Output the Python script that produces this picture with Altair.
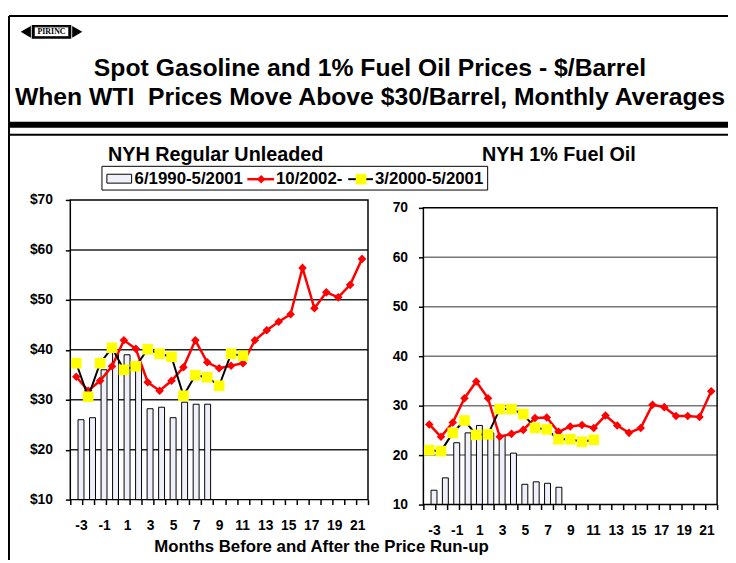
import altair as alt
import pandas as pd

# ---------------- data ----------------
months = list(range(-3, 22))
bar_months = list(range(-3, 9))
yel_months = list(range(-3, 12))

gas_bars = [26.0, 26.4, 36.0, 40.0, 39.0, 36.5, 28.2, 28.5, 26.4, 29.5, 29.1, 29.1]
gas_red = [34.6, 31.8, 33.8, 36.7, 41.9, 40.2, 33.5, 31.8, 33.8, 36.5, 41.9, 37.5,
           36.3, 36.8, 37.3, 41.9, 43.9, 45.6, 47.1, 56.4, 48.3, 51.5, 50.5, 53.0, 58.2]
gas_yel = [37.3, 30.6, 37.3, 40.4, 36.0, 36.7, 40.1, 39.2, 38.6, 30.8, 34.9, 34.5,
           32.8, 39.2, 38.8]

fo_bars = [12.9, 15.4, 22.5, 24.5, 26.0, 24.5, 24.0, 20.4, 14.1, 14.6, 14.3, 13.5]
fo_red = [26.2, 23.7, 26.6, 31.5, 34.9, 31.5, 23.7, 24.3, 25.1, 27.5, 27.6, 24.7,
          25.8, 26.1, 25.5, 28.0, 26.0, 24.5, 25.5, 30.2, 29.7, 27.9, 27.9, 27.7, 32.9]
fo_yel = [21.0, 20.8, 24.5, 27.0, 24.1, 24.2, 29.3, 29.3, 28.3, 25.5, 25.2, 23.2,
          23.2, 22.7, 23.1]

legend_labels = ["6/1990-5/2001", "10/2002-", "3/2000-5/2001"]
panel_titles = ["NYH Regular Unleaded", "NYH 1% Fuel Oil"]
title_lines = ["Spot Gasoline and 1% Fuel Oil Prices - $/Barrel",
               "When WTI \u00a0Prices Move Above $30/Barrel, Monthly Averages"]
x_title = "Months Before and After the Price Run-up"
y_ticks = [10, 20, 30, 40, 50, 60, 70]
grid_values = [20, 30, 40, 50, 60]
x_label_ticks = list(range(-3, 22, 2))
x_tick_marks = [m - 0.5 for m in range(-3, 23)]

# ---------------- styling ----------------
FONT = "Arial"
W, H = 728, 555
RED = "#FF0000"
YEL = "#FFFF00"
BARFILL = "#F0F0FB"
one = pd.DataFrame({"k": [0]})


def panel(bars, red, yel, xr, yr, dollar, gridcol, lpad):
    xs = alt.Scale(domain=[-3.5, 21.5], range=xr, nice=False, zero=False)
    ys = alt.Scale(domain=[10, 70], range=yr, nice=False, zero=False)
    dfb = pd.DataFrame({"m": bar_months, "v": bars, "base": [10] * len(bars)})
    dfr = pd.DataFrame({"m": months, "v": red})
    dfy = pd.DataFrame({"m": yel_months, "v": yel})
    dfg = pd.DataFrame({"g": grid_values, "x0": [-3.5] * len(grid_values),
                        "x1": [21.5] * len(grid_values)})
    dff = pd.DataFrame({"x0": [-3.5], "x1": [21.5], "y0": [10], "y1": [70]})

    xoff = yr[0] - H
    lab = "'$' + datum.value" if dollar else "'' + datum.value"
    yaxis = alt.Axis(orient="left", offset=-xr[0], values=y_ticks, labelExpr=lab,
                     tickSize=5, tickColor="black", tickWidth=1.5, domain=False,
                     grid=False, title=None, labelFont=FONT, labelFontSize=14,
                     labelFontWeight="bold", labelColor="black", labelPadding=lpad,
                     labelFlush=False, labelOverlap=False)
    tickaxis = alt.Axis(orient="bottom", offset=xoff, values=x_tick_marks, labels=False,
                        tickSize=5, tickColor="black", tickWidth=1.5, domain=False,
                        grid=False, title=None)
    labaxis = alt.Axis(orient="bottom", offset=xoff, values=x_label_ticks,
                       labelExpr="'' + datum.value", ticks=False, tickSize=0,
                       labelPadding=19, domain=False, grid=False, title=None,
                       labelFont=FONT, labelFontSize=14, labelFontWeight="bold",
                       labelColor="black", labelFlush=False, labelOverlap=False)

    grid = alt.Chart(dfg).mark_rule(color=gridcol, strokeWidth=1.5).encode(
        y=alt.Y("g:Q", scale=ys, axis=yaxis),
        x=alt.X("x0:Q", scale=xs, axis=None), x2="x1:Q")
    barl = alt.Chart(dfb).mark_bar(size=6, fill=BARFILL, stroke="black",
                                   strokeWidth=1).encode(
        x=alt.X("m:Q", scale=xs, axis=labaxis),
        y=alt.Y("v:Q", scale=ys, axis=None), y2="base:Q")
    frame = alt.Chart(dff).mark_rect(fill=None, stroke="black", strokeWidth=1.5).encode(
        x=alt.X("x0:Q", scale=xs, axis=tickaxis), x2="x1:Q",
        y=alt.Y("y0:Q", scale=ys, axis=None), y2="y1:Q")
    redline = alt.Chart(dfr).mark_line(color=RED, strokeWidth=2.5).encode(
        x=alt.X("m:Q", scale=xs, axis=None), y=alt.Y("v:Q", scale=ys, axis=None))
    redpts = alt.Chart(dfr).mark_point(shape="diamond", filled=True, color=RED,
                                       size=75, opacity=1).encode(
        x=alt.X("m:Q", scale=xs, axis=None), y=alt.Y("v:Q", scale=ys, axis=None))
    yline = alt.Chart(dfy).mark_line(color="black", strokeWidth=2).encode(
        x=alt.X("m:Q", scale=xs, axis=None), y=alt.Y("v:Q", scale=ys, axis=None))
    ypts = alt.Chart(dfy).mark_square(color=YEL, size=115, opacity=1).encode(
        x=alt.X("m:Q", scale=xs, axis=None), y=alt.Y("v:Q", scale=ys, axis=None))
    return [grid, barl, frame, redline, redpts, yline, ypts]


def txt(s, x, y, size, align="center", font=FONT, weight="bold", baseline="middle"):
    return alt.Chart(one).mark_text(text=s, fontSize=size, fontWeight=weight, font=font,
                                    align=align, baseline=baseline, color="black").encode(
        x=alt.value(x), y=alt.value(y))


def hrule(x, x2, y, w=1, color="black"):
    return alt.Chart(one).mark_rule(strokeWidth=w, color=color).encode(
        x=alt.value(x), x2=alt.value(x2), y=alt.value(y))


def vrule(x, y, y2, w=1, color="black"):
    return alt.Chart(one).mark_rule(strokeWidth=w, color=color).encode(
        x=alt.value(x), y=alt.value(y), y2=alt.value(y2))


def box(x, x2, y, y2, fill="white", stroke="black", w=1):
    return alt.Chart(one).mark_rect(fill=fill, stroke=stroke, strokeWidth=w).encode(
        x=alt.value(x), x2=alt.value(x2), y=alt.value(y), y2=alt.value(y2))


def pt(shape, x, y, size, color):
    return alt.Chart(one).mark_point(shape=shape, filled=True, size=size, color=color,
                                     opacity=1).encode(x=alt.value(x), y=alt.value(y))


layers = []
# page frame and header
layers += [
    vrule(1, 5, H, w=2),
    hrule(1, W, 5, w=2),
    box(1, W, 112, 118, fill="black", stroke="black", w=0),
    hrule(1, W, 125, w=2),
    # logo
    pt("triangle-left", 18, 21, 140, "black"),
    pt("triangle-right", 70, 21, 140, "black"),
    box(24, 64, 14, 28, fill="black", stroke="black", w=0),
    box(26.5, 61.5, 16, 26, fill="white", stroke="black", w=1),
    txt("PIRINC", 44, 21.5, 8, font="Liberation Serif"),
    txt(title_lines[0], 366, 58, 25),
    txt(title_lines[1], 366, 87, 25),
]

layers += panel(gas_bars, gas_red, gas_yel, [63, 364], [494, 191], True, "#222222", 13)
layers += panel(fo_bars, fo_red, fo_yel, [420, 717], [499, 199], False, "#777777", 11)

# panel titles and legend
layers += [
    txt(panel_titles[0], 210, 146, 20),
    txt(panel_titles[1], 557, 146, 20),
    box(95, 485, 157, 181),
    box(100, 125, 165, 174, fill=BARFILL),
    txt(legend_labels[0], 128, 170, 17, align="left"),
    hrule(242, 269, 170, w=2.5, color=RED),
    pt("diamond", 256, 170, 75, RED),
    txt(legend_labels[1], 271, 170, 17, align="left"),
    hrule(344, 369, 170, w=2),
    pt("square", 357, 170, 115, YEL),
    txt(legend_labels[2], 371, 170, 17, align="left"),
    txt(x_title, 317, 542, 17),
]

chart = alt.layer(*layers).resolve_scale(x="independent", y="independent").properties(
    width=W, height=H, autosize=alt.AutoSizeParams(type="none"), padding=0
).configure_view(stroke=None)

chart.save("out.html", embed_options={"renderer": "svg", "actions": False})
